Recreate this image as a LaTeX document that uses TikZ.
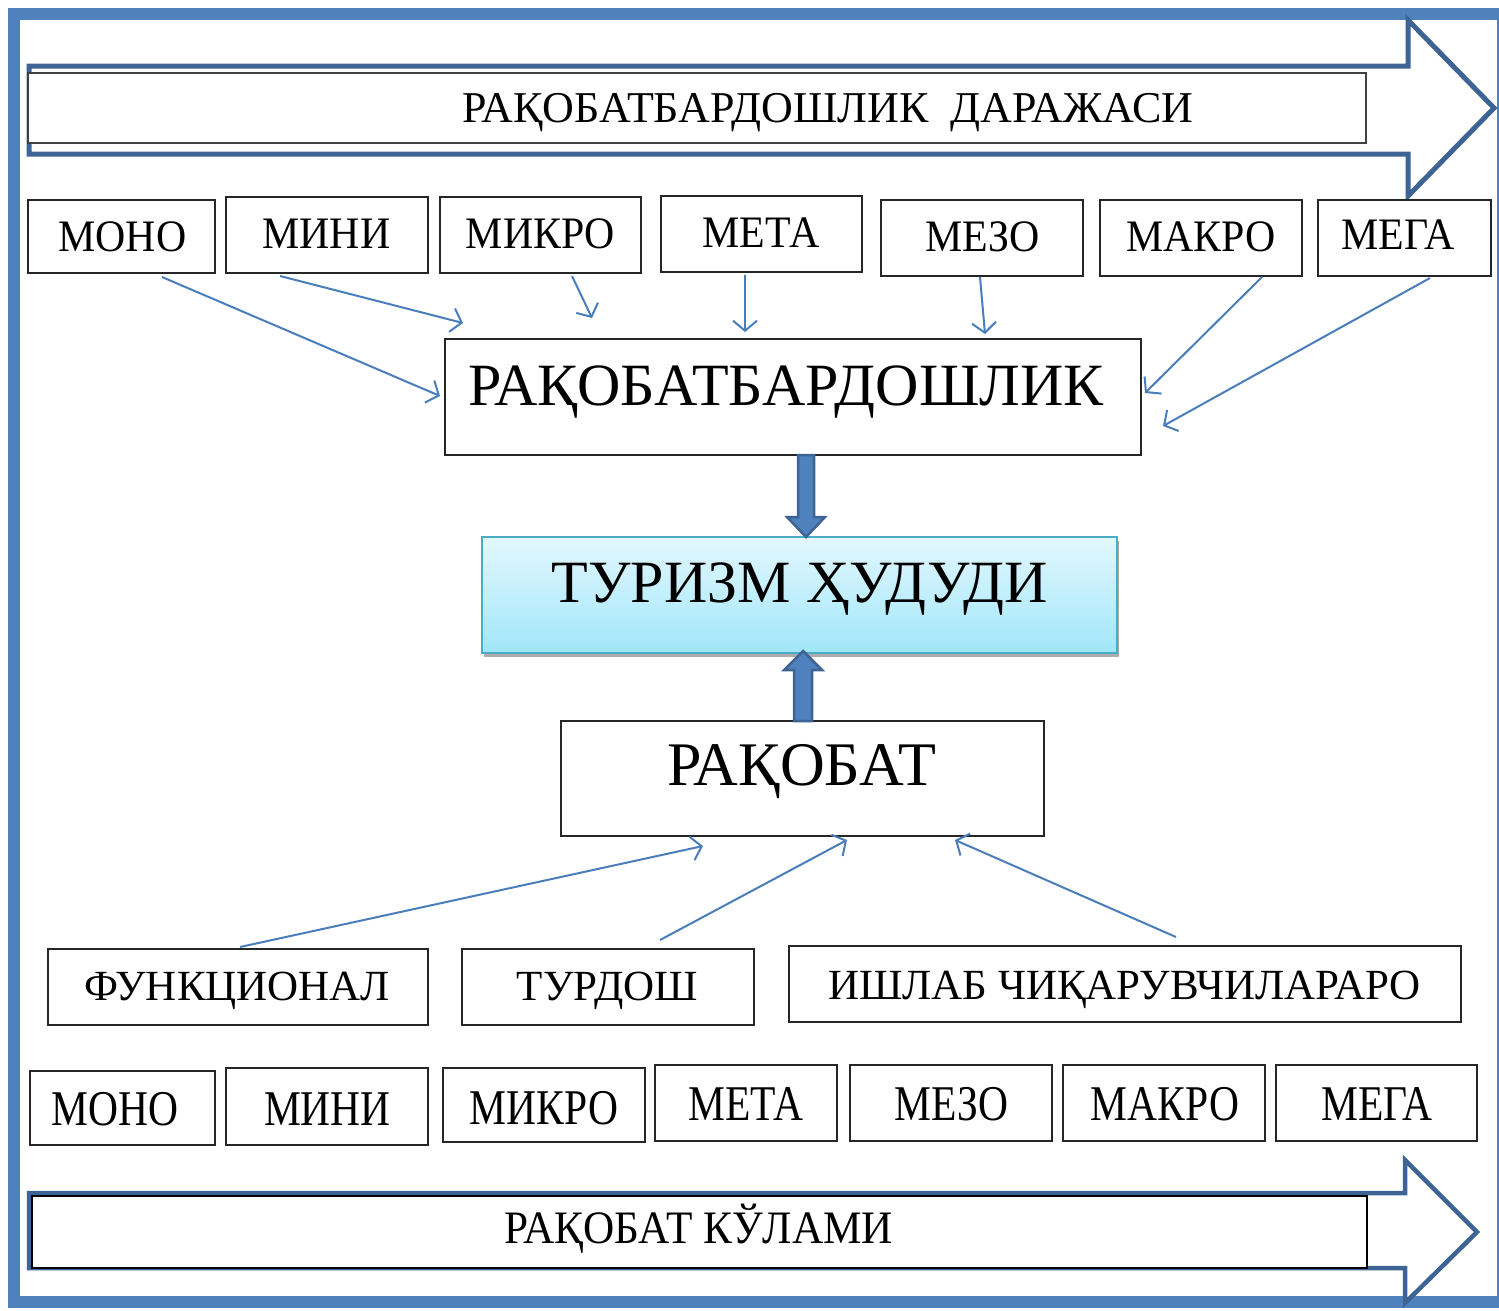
\documentclass[tikz,border=0pt]{standalone}
\usepackage{fontspec}
\setmainfont{Liberation Serif}
\newfontfamily\fN{Liberation Serif}
\newfontfamily\fS[FakeStretch=0.93]{Liberation Serif}
\newfontfamily\fC[FakeStretch=0.83]{Liberation Serif}
\usetikzlibrary{arrows.meta,calc}
\definecolor{frameblue}{HTML}{4F81BD}
\definecolor{arrowblue}{HTML}{3D6494}
\definecolor{connblue}{HTML}{4A7EBB}
\definecolor{tzborder}{HTML}{4BACC6}
\definecolor{tztop}{HTML}{E3F8FE}
\definecolor{tzbot}{HTML}{A0E6FA}
\tikzset{
  box/.style 2 args={draw=black!85, line width=1.5pt, fill=white, inner sep=0pt,
    minimum width=#1, minimum height=#2},
  lbl/.style={anchor=base, inner sep=0pt, text=black},
  toptxt/.style={lbl, font=\fS\fontsize{45}{54}\selectfont},
  midtxt/.style={lbl, font=\fN\fontsize{43}{52}\selectfont},
  bottxt/.style={lbl, font=\fC\fontsize{50}{60}\selectfont},
  conn/.style={draw=connblue, line width=2pt,
    -{Straight Barb[length=10pt,width=24pt,line width=2pt]}},
  blockarrow/.style={draw=arrowblue, fill=white, line width=5pt, line join=miter},
  fatarrow/.style={draw=arrowblue, fill=frameblue, line width=2.5pt, line join=miter}
}
\begin{document}
\begin{tikzpicture}[x=1pt,y=-1pt]
\useasboundingbox (0,0) rectangle (1499,1310);
\fill[white] (0,0) rectangle (1499,1310);
% outer frame
\draw[frameblue, line width=12pt] (14,14) rectangle (1503,1302);

% top block arrow
\draw[blockarrow] (29,66) -- (1408,66) -- (1408,20) -- (1494,108) -- (1408,196) -- (1408,154) -- (29,154) -- cycle;
\node[box={1338pt}{70pt}, draw=black!75] (ta) at (697,108) {};
\node[lbl, font=\fN\fontsize{44}{52}\selectfont] (tal) at (828,122) {РАҚОБАТБАРДОШЛИК\hspace{0.25em} ДАРАЖАСИ};

% top row
\node[box={187pt}{73pt}] (t1) at (121.5,236.5) {};
\node[box={202pt}{76pt}] (t2) at (327,235) {};
\node[box={201pt}{76pt}] (t3) at (540.5,235) {};
\node[box={201pt}{76pt}] (t4) at (761.5,234) {};
\node[box={202pt}{76pt}] (t5) at (982,238) {};
\node[box={202pt}{76pt}] (t6) at (1201,238) {};
\node[box={173pt}{76pt}] (t7) at (1404.5,238) {};
\node[toptxt] (t1l) at (122.5,251) {МОНО};
\node[toptxt] (t2l) at (326.5,248) {МИНИ};
\node[toptxt] (t3l) at (540.5,248) {МИКРО};
\node[toptxt] (t4l) at (761,247) {МЕТА};
\node[toptxt] (t5l) at (982.5,251) {МЕЗО};
\node[toptxt] (t6l) at (1201,251) {МАКРО};
\node[toptxt] (t7l) at (1398,249) {МЕГА};

% competitiveness
\node[box={696pt}{116pt}] (rb) at (793,397) {};
\node[lbl, font=\fN\fontsize{60}{68}\selectfont] (rbl) at (786,405) {РАҚОБАТБАРДОШЛИК};

% connectors top row -> rb
\coordinate (s1) at (162,277);  \coordinate (e1) at (440,396);
\coordinate (s2) at (280,276);  \coordinate (e2) at (463,323);
\coordinate (s3) at (572,276);  \coordinate (e3) at (592,318);
\coordinate (s4) at (745,275);  \coordinate (e4) at (745,332);
\coordinate (s5) at (980,277);  \coordinate (e5) at (985,334);
\coordinate (s6) at (1262,277); \coordinate (e6) at (1145,393);
\coordinate (s7) at (1430,278); \coordinate (e7) at (1163,426);
\foreach \i in {1,...,7} \draw[conn] (s\i) -- (e\i);

% tourism region
\fill[gray!65] (484,541) rectangle (1119,657);
\node[draw=tzborder, line width=2pt, top color=tztop, bottom color=tzbot,
      minimum width=635pt, minimum height=116pt, inner sep=0pt] (tz) at (799.5,595) {};
\node[lbl, font=\fN\fontsize{60}{68}\selectfont] (tzl) at (800,602) {ТУРИЗМ ҲУДУДИ};

% fat arrow down rb -> tz
\coordinate (da) at (806,455);
\coordinate (db) at (806,537);
\draw[fatarrow] ($(da)+(-8,0)$) -- ($(db)+(-8,-20)$) -- ($(db)+(-19,-20)$) -- (db)
  -- ($(db)+(19,-20)$) -- ($(db)+(8,-20)$) -- ($(da)+(8,0)$) -- cycle;

% competition
\node[box={483pt}{115pt}] (rk) at (802.5,778.5) {};
\node[lbl, font=\fN\fontsize{62}{70}\selectfont] (rkl) at (802,785) {РАҚОБАТ};

% fat arrow up rk -> tz
\coordinate (ua) at (803,721);
\coordinate (ub) at (803,651);
\draw[fatarrow] ($(ua)+(-9,0)$) -- ($(ub)+(-9,19)$) -- ($(ub)+(-19,19)$) -- (ub)
  -- ($(ub)+(19,19)$) -- ($(ub)+(9,19)$) -- ($(ua)+(9,0)$) -- cycle;

% middle row
\node[box={380pt}{76pt}] (m1) at (238,987) {};
\node[box={292pt}{76pt}] (m2) at (608,987) {};
\node[box={672pt}{76pt}] (m3) at (1125,984) {};
\node[midtxt] (m1l) at (237.5,1000) {ФУНКЦИОНАЛ};
\node[midtxt] (m2l) at (607.5,1000) {ТУРДОШ};
\node[midtxt] (m3l) at (1124.5,999) {ИШЛАБ ЧИҚАРУВЧИЛАРАРО};

% connectors middle row -> rk
\coordinate (u1) at (240,947);  \coordinate (f1) at (703,846);
\coordinate (u2) at (660,940);  \coordinate (f2) at (847,840);
\coordinate (u3) at (1176,937); \coordinate (f3) at (955,840);
\foreach \i in {1,2,3} \draw[conn] (u\i) -- (f\i);

% bottom row
\node[box={185pt}{74pt}] (b1) at (122.5,1108) {};
\node[box={202pt}{77pt}] (b2) at (327,1106.5) {};
\node[box={202pt}{74pt}] (b3) at (544,1105) {};
\node[box={182pt}{76pt}] (b4) at (746,1103) {};
\node[box={202pt}{76pt}] (b5) at (951,1103) {};
\node[box={202pt}{76pt}] (b6) at (1164,1103) {};
\node[box={201pt}{76pt}] (b7) at (1376.5,1103) {};
\node[bottxt] (b1l) at (115,1125) {МОНО};
\node[bottxt] (b2l) at (327.5,1125) {МИНИ};
\node[bottxt] (b3l) at (544,1124) {МИКРО};
\node[bottxt] (b4l) at (746,1120) {МЕТА};
\node[bottxt] (b5l) at (951.5,1120) {МЕЗО};
\node[bottxt] (b6l) at (1165,1120) {МАКРО};
\node[bottxt] (b7l) at (1377,1120) {МЕГА};

% bottom block arrow
\draw[blockarrow, line width=4.5pt] (29,1193) -- (1405,1193) -- (1405,1160) -- (1477,1232) -- (1405,1303) -- (1405,1268) -- (29,1268) -- cycle;
\node[box={1335pt}{72pt}, draw=black] (ba) at (699.5,1232) {};
\node[lbl, font=\fS\fontsize{46.5}{54}\selectfont] (bal) at (699,1243) {РАҚОБАТ КЎЛАМИ};
\end{tikzpicture}
\end{document}
